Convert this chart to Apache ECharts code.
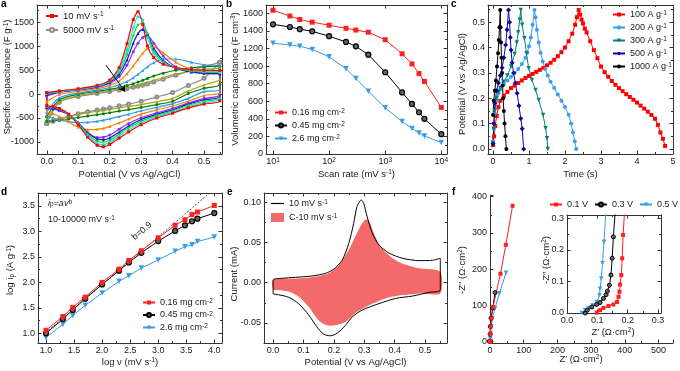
<!DOCTYPE html>
<html><head><meta charset="utf-8">
<script src="https://cdn.jsdelivr.net/npm/echarts@6/dist/echarts.min.js"></script>
<style>html,body{margin:0;padding:0;background:#fff}#c{width:680px;height:371px}</style>
</head><body><div id="c"></div>
<script>
const FONT = '"Liberation Sans", Arial, Helvetica, sans-serif';

// ---------- Panel a : CV curves (potential grids + specific capacitance) ----------
const aPotUp   = [0, 0.04, 0.1, 0.16, 0.2, 0.23, 0.255, 0.275, 0.29, 0.305, 0.32, 0.34, 0.37, 0.41, 0.46, 0.5, 0.55];
const aPotDown = [0.55, 0.5, 0.45, 0.4, 0.35, 0.3, 0.26, 0.23, 0.2, 0.18, 0.16, 0.13, 0.1, 0.07, 0.04, 0.02, 0];
const cv10Up     = [30, 65, 110, 180, 290, 550, 1050, 1550, 1715, 1450, 1000, 760, 620, 550, 510, 495, 490];
const cv10Down   = [-140, -210, -290, -400, -500, -640, -790, -920, -1050, -1100, -1070, -900, -640, -420, -300, -260, -240];
const cv20Up     = [20, 55, 100, 170, 275, 490, 920, 1380, 1610, 1540, 1180, 840, 650, 550, 500, 475, 460];
const cv20Down   = [-110, -180, -265, -375, -475, -605, -750, -880, -1010, -1055, -1030, -870, -625, -420, -305, -265, -250];
const cv30Up     = [10, 50, 95, 160, 260, 450, 820, 1220, 1440, 1470, 1260, 900, 670, 540, 480, 455, 440];
const cv30Down   = [-80, -150, -235, -350, -445, -565, -705, -835, -965, -1005, -980, -835, -615, -420, -315, -275, -260];
const cv50Up     = [-10, 45, 90, 150, 245, 410, 710, 1060, 1260, 1345, 1250, 950, 700, 540, 460, 435, 420];
const cv50Down   = [-50, -120, -210, -330, -420, -530, -665, -795, -915, -950, -935, -810, -600, -425, -330, -290, -275];
const cv100Up    = [-40, 35, 85, 140, 225, 360, 600, 880, 1060, 1180, 1215, 1060, 790, 570, 460, 425, 410];
const cv100Down  = [-20, -90, -190, -300, -390, -495, -615, -735, -855, -900, -905, -800, -610, -440, -350, -315, -295];
const cv200Up    = [-160, -10, 55, 110, 180, 270, 420, 590, 720, 850, 950, 985, 860, 660, 510, 460, 440];
const cv200Down  = [30, -30, -150, -250, -330, -420, -520, -600, -675, -715, -735, -740, -690, -580, -470, -410, -370];
const cv500Up    = [-380, -80, 20, 80, 135, 190, 260, 340, 410, 490, 570, 650, 730, 730, 660, 610, 585];
const cv500Down  = [90, 50, -90, -200, -280, -350, -420, -470, -515, -545, -570, -590, -595, -575, -540, -500, -460];
const cv1000Up   = [-470, -120, -5, 55, 100, 135, 175, 215, 250, 285, 325, 375, 435, 495, 545, 570, 580];
const cv1000Down = [200, 120, 10, -150, -220, -280, -325, -355, -390, -410, -430, -460, -490, -520, -545, -560, -570];
const cv2000Up   = [-545, -160, -35, 30, 75, 105, 135, 165, 190, 215, 245, 285, 345, 415, 480, 515, 540];
const cv2000Down = [310, 190, 65, -90, -160, -220, -260, -290, -320, -340, -360, -390, -425, -465, -510, -540, -560];
const cv5000Up   = [-615, -170, -50, 10, 50, 85, 115, 140, 160, 185, 210, 250, 310, 390, 490, 570, 660];
const cv5000Down = [660, 330, 180, 30, -60, -150, -210, -245, -285, -310, -335, -370, -410, -470, -530, -570, -615];
const arrowFrom = [0.188, 604];
const arrowTo = [0.249, 48];

// ---------- Panel b ----------
const scanRates = [10, 20, 30, 50, 100, 200, 300, 500, 1000, 2000, 3000, 4000, 5000, 10000];
const bVol016 = [1635, 1570, 1530, 1500, 1465, 1430, 1410, 1385, 1300, 1140, 1025, 915, 825, 530];
const bVol045 = [1475, 1445, 1420, 1395, 1340, 1275, 1225, 1130, 930, 700, 570, 475, 400, 225];
const bVol26  = [1260, 1240, 1225, 1190, 1105, 970, 860, 715, 525, 370, 290, 240, 205, 130];

// ---------- Panel c ----------
const cT100 = [0, 0.03, 0.06, 0.1, 0.15, 0.2, 0.3, 0.4, 0.5, 0.6, 0.7, 0.8, 0.9, 1.0, 1.1, 1.2, 1.3, 1.4, 1.5, 1.6, 1.7, 1.8, 1.9, 2.0, 2.1, 2.2, 2.28, 2.33, 2.38, 2.42, 2.46, 2.5, 2.55, 2.6, 2.7, 2.8, 2.9, 3.0, 3.1, 3.2, 3.3, 3.4, 3.5, 3.6, 3.7, 3.8, 3.9, 4.0, 4.1, 4.2, 4.3, 4.4, 4.5, 4.58, 4.65, 4.72, 4.78];
const cV100 = [0.015, 0.05, 0.09, 0.13, 0.165, 0.19, 0.21, 0.225, 0.24, 0.25, 0.26, 0.27, 0.28, 0.288, 0.296, 0.304, 0.312, 0.32, 0.33, 0.34, 0.352, 0.366, 0.382, 0.4, 0.425, 0.455, 0.49, 0.52, 0.548, 0.53, 0.51, 0.495, 0.475, 0.46, 0.425, 0.39, 0.358, 0.325, 0.303, 0.285, 0.268, 0.253, 0.24, 0.228, 0.216, 0.205, 0.194, 0.183, 0.171, 0.159, 0.147, 0.134, 0.119, 0.095, 0.065, 0.04, 0.012];
const cT200 = [0, 0.02, 0.05, 0.1, 0.15, 0.2, 0.3, 0.4, 0.5, 0.6, 0.7, 0.8, 0.9, 0.95, 1.0, 1.05, 1.1, 1.15, 1.18, 1.22, 1.27, 1.32, 1.38, 1.45, 1.52, 1.6, 1.7, 1.8, 1.9, 2.0, 2.1, 2.17, 2.22, 2.27, 2.31];
const cV200 = [0.03, 0.08, 0.14, 0.19, 0.22, 0.235, 0.255, 0.27, 0.285, 0.3, 0.315, 0.335, 0.36, 0.38, 0.405, 0.44, 0.49, 0.548, 0.52, 0.47, 0.42, 0.38, 0.345, 0.315, 0.29, 0.265, 0.24, 0.215, 0.19, 0.165, 0.135, 0.1, 0.065, 0.03, 0.0];
const cT300 = [0, 0.02, 0.05, 0.1, 0.15, 0.2, 0.3, 0.4, 0.5, 0.6, 0.66, 0.7, 0.74, 0.77, 0.81, 0.87, 0.93, 0.99, 1.08, 1.18, 1.27, 1.39, 1.46, 1.5, 1.52];
const cV300 = [0.02, 0.08, 0.15, 0.2, 0.225, 0.24, 0.265, 0.29, 0.325, 0.375, 0.42, 0.46, 0.51, 0.548, 0.49, 0.437, 0.378, 0.318, 0.272, 0.233, 0.193, 0.134, 0.082, 0.042, 0.0];
const cT500 = [0, 0.02, 0.05, 0.1, 0.15, 0.2, 0.25, 0.3, 0.35, 0.39, 0.43, 0.46, 0.48, 0.5, 0.53, 0.57, 0.62, 0.67, 0.72, 0.77, 0.81, 0.85];
const cV500 = [0.02, 0.1, 0.18, 0.23, 0.26, 0.29, 0.32, 0.36, 0.41, 0.47, 0.548, 0.5, 0.44, 0.39, 0.34, 0.3, 0.26, 0.22, 0.17, 0.12, 0.08, 0.0];
const cT1000 = [0, 0.02, 0.05, 0.08, 0.11, 0.14, 0.16, 0.18, 0.2, 0.21, 0.22, 0.235, 0.25, 0.265, 0.28, 0.3, 0.32, 0.345, 0.37];
const cV1000 = [0.134, 0.19, 0.23, 0.27, 0.325, 0.378, 0.43, 0.48, 0.548, 0.48, 0.42, 0.36, 0.3, 0.25, 0.2, 0.15, 0.1, 0.05, 0.0];

// ---------- Panel d ----------
const dLogRate = [1.0, 1.301, 1.477, 1.699, 2.0, 2.301, 2.477, 2.699, 3.0, 3.301, 3.477, 3.602, 3.699, 4.0];
const dLogI016 = [1.06, 1.33, 1.51, 1.71, 2.0, 2.26, 2.43, 2.62, 2.875, 3.12, 3.23, 3.33, 3.38, 3.51];
const dLogI045 = [1.0, 1.28, 1.46, 1.68, 1.96, 2.23, 2.39, 2.58, 2.81, 3.01, 3.12, 3.2, 3.25, 3.36];
const dLogI26  = [0.92, 1.18, 1.35, 1.55, 1.79, 2.02, 2.13, 2.28, 2.44, 2.61, 2.7, 2.74, 2.8, 2.89];
const dFitX = [1.0, 4.0];
const dFitY = [1.02, 3.83];

// ---------- Panel e ----------
const eBlackX = [0, 0, 0.029, 0.073, 0.128, 0.172, 0.199, 0.227, 0.249, 0.265, 0.276, 0.29, 0.298, 0.309, 0.326, 0.348, 0.381, 0.425, 0.48, 0.524, 0.55, 0.55, 0.513, 0.458, 0.403, 0.348, 0.293, 0.26, 0.238, 0.21, 0.188, 0.166, 0.144, 0.117, 0.084, 0.051, 0.018, 0];
const eBlackY = [-0.014, 0.0034, 0.0055, 0.0067, 0.0084, 0.0117, 0.0167, 0.028, 0.049, 0.074, 0.095, 0.103, 0.099, 0.0825, 0.062, 0.047, 0.037, 0.0305, 0.0275, 0.028, 0.0305, -0.009, -0.012, -0.0166, -0.0195, -0.026, -0.034, -0.0425, -0.053, -0.063, -0.066, -0.064, -0.055, -0.04, -0.026, -0.018, -0.015, -0.014];
const eFillX = [0, 0.073, 0.128, 0.183, 0.216, 0.249, 0.276, 0.293, 0.306, 0.317, 0.331, 0.353, 0.386, 0.425, 0.48, 0.55, 0.55, 0.49, 0.425, 0.37, 0.315, 0.27, 0.238, 0.205, 0.177, 0.15, 0.117, 0.084, 0.051, 0.018, 0];
const eFillY = [0.0034, 0.005, 0.0067, 0.0117, 0.022, 0.041, 0.062, 0.074, 0.079, 0.076, 0.062, 0.045, 0.0325, 0.024, 0.018, 0.0138, -0.0133, -0.0133, -0.0154, -0.0195, -0.028, -0.038, -0.049, -0.053, -0.053, -0.047, -0.03, -0.0175, -0.011, -0.009, -0.0083];

// ---------- Panel f ----------
const fRedX = [0.098, 0.109, 0.12, 0.137, 0.153, 0.165, 0.17, 0.173, 0.175, 0.179, 0.182, 0.185, 0.195, 1, 2, 4, 9, 31, 47, 67];
const fRedY = [0.001, 0.009, 0.016, 0.022, 0.027, 0.035, 0.051, 0.067, 0.09, 0.12, 0.173, 0.247, 0.4, 20, 41, 64, 95, 187, 267, 375];
const fBlackX = [0.06, 0.067, 0.082, 0.098, 0.109, 0.12, 0.129, 0.133, 0.14, 0.145, 0.149, 0.153, 0.165, 0.5, 1, 3, 8, 15];
const fBlackY = [0, 0.009, 0.019, 0.027, 0.033, 0.046, 0.058, 0.069, 0.088, 0.12, 0.173, 0.241, 0.4, 20, 41, 64, 92, 135];
const fBlueX = [0.049, 0.06, 0.071, 0.085, 0.098, 0.107, 0.109, 0.113, 0.117, 0.122, 0.133, 0.3, 1, 2, 4, 7, 15, 28, 47.5];
const fBlueY = [0, 0.009, 0.016, 0.024, 0.035, 0.056, 0.077, 0.109, 0.157, 0.225, 0.4, 2, 9, 23, 41, 64, 92, 133, 190];

// ---------- tick labels of the y axes that are written next to their axis ----------
const bTickY = [0, 200, 400, 600, 800, 1000, 1200, 1400, 1600];
const eTickY = [-0.05, 0, 0.05, 0.1];
const fTickY = [0, 100, 200, 300, 400];
const insetTickY = [0, 0.1, 0.2, 0.3];

// ---------- labels ----------
const LABELS = {
  a10: '10 mV s{sup|-1}', a5000: '5000 mV s{sup|-1}',
  b1: '0.16 mg cm{sup|-2}', b2: '0.45 mg cm{sup|-2}', b3: '2.6 mg cm{sup|-2}',
  c1: '100 A g{sup|-1}', c2: '200 A g{sup|-1}', c3: '300 A g{sup|-1}', c4: '500 A g{sup|-1}', c5: '1000 A g{sup|-1}',
  d1: '0.16 mg cm{sup|-2}', d2: '0.45 mg cm{sup|-2}', d3: '2.6 mg cm{sup|-2}',
  e1: '10 mV s{sup|-1}', e2: 'C-10 mV s{sup|-1}',
  f1: '0.1 V', f2: '0.3 V', f3: '0.5 V'
};

const RICH = {
  sup: {fontSize: 6.5, verticalAlign: 'top', fontFamily: FONT, color: '#1a1a1a'},
  sub: {fontSize: 6.5, verticalAlign: 'bottom', fontFamily: FONT, color: '#1a1a1a'},
  it: {fontStyle: 'italic', fontFamily: FONT, color: '#1a1a1a', fontSize: 9}
};

const grids = [], xAxes = [], yAxes = [];
function axisCfg(gi, pos, o, main) {
  const a = {
    gridIndex: gi, position: pos, type: o.type || 'value',
    min: o.min, max: o.max,
    axisLine: {show: true, onZero: false, lineStyle: {color: '#333', width: 1}},
    axisTick: {show: true, inside: true, length: 3.5, lineStyle: {color: '#333', width: 1}},
    minorTick: {show: o.minor !== false, splitNumber: 2, length: 2, lineStyle: {color: '#333', width: 1}},
    splitLine: {show: false}, minorSplitLine: {show: false},
    axisLabel: {show: main && !o.ownLabels, color: '#1a1a1a', fontSize: 9, fontFamily: FONT, margin: 3,
      showMinLabel: !!o.showMin, showMaxLabel: !!o.showMax, formatter: o.fmt, rich: RICH},
    silent: true
  };
  if (o.interval != null) a.interval = o.interval;
  if (o.splitNumber != null) a.splitNumber = o.splitNumber;
  if (o.type === 'log') a.logBase = 10;
  return a;
}
function addPanel(g, xo, yo, box) {
  const gi = grids.length;
  grids.push(Object.assign({containLabel: false, outerBoundsMode: 'none', show: false}, g));
  const xi = xAxes.length, yi = yAxes.length;
  xAxes.push(axisCfg(gi, 'bottom', xo, true));
  yAxes.push(axisCfg(gi, 'left', yo, true));
  if (box) {
    xAxes.push(axisCfg(gi, 'top', xo, false));
    yAxes.push(axisCfg(gi, 'right', yo, false));
  }
  return {xAxisIndex: xi, yAxisIndex: yi, xMin: xo.min, left: g.left};
}
const step = (s, d) => v => (Math.abs(v / s - Math.round(v / s)) < 1e-6 ? (Math.round(v / s) * s).toFixed(d) : '');

const PA = addPanel({left: 37, top: 5, width: 185, height: 149},
  {min: -0.031, max: 0.557, splitNumber: 5, fmt: step(0.1, 1)},
  {min: -1250, max: 1855, splitNumber: 6, fmt: step(500, 0)}, true);
const PB = addPanel({left: 266, top: 5, width: 181, height: 149},
  {type: 'log', min: 7.5, max: 12630, minor: false, fmt: v => '10{sup|' + Math.round(Math.log10(v)) + '}'},
  {min: 0, max: 1695, interval: 200, ownLabels: true}, true);
const PC = addPanel({left: 488, top: 5, width: 185, height: 149},
  {min: -0.14, max: 5.0, splitNumber: 5, showMax: true, fmt: step(1, 0)},
  {min: -0.02, max: 0.568, splitNumber: 5, fmt: step(0.1, 1)}, true);
const PD = addPanel({left: 38, top: 193, width: 184, height: 150},
  {min: 0.857, max: 4.137, splitNumber: 7, fmt: step(0.5, 1)},
  {min: 0.81, max: 3.754, splitNumber: 6, fmt: step(0.5, 1)}, true);
const PE = addPanel({left: 264, top: 193, width: 183, height: 150},
  {min: -0.03, max: 0.572, splitNumber: 5, fmt: step(0.1, 1)},
  {min: -0.075, max: 0.1117, splitNumber: 4, ownLabels: true}, true);
const PF = addPanel({left: 490, top: 195, width: 183, height: 148},
  {min: 0, max: 543, interval: 100, showMin: true, fmt: step(100, 0)},
  {min: -4.4, max: 404.7, splitNumber: 4, ownLabels: true}, false);
const PI = addPanel({left: 567, top: 215, width: 94, height: 98},
  {min: 0, max: 0.31, interval: 0.1, showMin: true, fmt: step(0.1, 1)},
  {min: 0, max: 0.31, interval: 0.1, ownLabels: true}, true);

const pairs = (xs, ys) => xs.map((x, i) => [x, ys[i]]);
const loop = (up, down) => {
  const d = pairs(aPotUp, up).concat(pairs(aPotDown, down));
  d.push(d[0]);
  return d;
};
const series = [];
function line(p, name, data, color, symbol, size, extra) {
  series.push(Object.assign({
    type: 'line', name: name, xAxisIndex: p.xAxisIndex, yAxisIndex: p.yAxisIndex, data: data,
    symbol: symbol, symbolSize: size, showSymbol: symbol !== 'none',
    lineStyle: {color: color, width: 1}, itemStyle: {color: color},
    clip: true, animation: false, silent: true
  }, extra || {}));
}

// panel a
const aStyles = [
  ['a5000', cv5000Up, cv5000Down, '#8c8c8c', 'emptyCircle'],
  ['a2000', cv2000Up, cv2000Down, '#a6a612', 'triangle'],
  ['a1000', cv1000Up, cv1000Down, '#0b7d0b', 'circle'],
  ['a500', cv500Up, cv500Down, '#2b9bf0', 'triangle'],
  ['a200', cv200Up, cv200Down, '#ff8000', 'triangle'],
  ['a100', cv100Up, cv100Down, '#8f2cf5', 'circle'],
  ['a50', cv50Up, cv50Down, '#1010ee', 'triangle'],
  ['a30', cv30Up, cv30Down, '#10e010', 'diamond'],
  ['a20', cv20Up, cv20Down, '#10e0e8', 'circle'],
  ['a10', cv10Up, cv10Down, '#ff0000', 'rect']
];
aStyles.forEach(s => line(PA, s[0], loop(s[1], s[2]), s[3], s[4], 3, {smooth: 0.25, lineStyle: {color: s[3], width: 1.2}}));
series[0].markLine = {silent: true, symbol: ['none', 'arrow'], symbolSize: 6, animation: false,
  lineStyle: {color: '#000', type: 'solid', width: 1}, label: {show: false},
  data: [[{coord: arrowFrom}, {coord: arrowTo}]]};

// panel b
line(PB, 'b1', pairs(scanRates, bVol016), '#ff2020', 'rect', 5);
line(PB, 'b2', pairs(scanRates, bVol045), '#000000', 'circle', 5, {itemStyle: {color: '#666', borderColor: '#000', borderWidth: 1.2}});
line(PB, 'b3', pairs(scanRates, bVol26), '#3a9be6', 'triangle', 5.5, {symbolRotate: 180});

// panel c
line(PC, 'c1', pairs(cT100, cV100), '#ff0000', 'rect', 4);
line(PC, 'c2', pairs(cT200, cV200), '#3b9cf0', 'circle', 4);
line(PC, 'c3', pairs(cT300, cV300), '#0a7f7a', 'triangle', 4.5, {symbolRotate: 180});
line(PC, 'c4', pairs(cT500, cV500), '#0a0a9a', 'diamond', 5);
line(PC, 'c5', pairs(cT1000, cV1000), '#000000', 'circle', 4);

// panel d
line(PD, 'dfit', pairs(dFitX, dFitY), '#333', 'none', 0, {lineStyle: {color: '#333', width: 1, type: [1.5, 2]}});
line(PD, 'd3', pairs(dLogRate, dLogI26), '#3a9be6', 'triangle', 5.5, {symbolRotate: 180});
line(PD, 'd2', pairs(dLogRate, dLogI045), '#000000', 'circle', 5, {itemStyle: {color: '#666', borderColor: '#000', borderWidth: 1.2}});
line(PD, 'd1', pairs(dLogRate, dLogI016), '#ff2020', 'rect', 5);

// panel e
series.push({
  type: 'custom', name: 'e2', xAxisIndex: PE.xAxisIndex, yAxisIndex: PE.yAxisIndex,
  data: [[0, 0]], itemStyle: {color: '#f46a6a'}, clip: true, animation: false, silent: true,
  renderItem: (params, api) => ({
    type: 'polygon',
    shape: {points: eFillX.map((x, i) => api.coord([x, eFillY[i]])), smooth: 0.25},
    style: {fill: '#f46a6a'}
  })
});
line(PE, 'e1', pairs(eBlackX, eBlackY), '#000000', 'none', 0, {smooth: 0.25});

// panel f (main + inset)
[[PF, ''], [PI, 'i']].forEach(([p, suf]) => {
  line(p, 'f3' + suf, pairs(fBlueX, fBlueY), '#3a9be6', 'triangle', 4.5, {symbolRotate: 180});
  line(p, 'f2' + suf, pairs(fBlackX, fBlackY), '#000000', 'circle', 4, {itemStyle: {color: '#666', borderColor: '#000', borderWidth: 1}});
  line(p, 'f1' + suf, pairs(fRedX, fRedY), '#ff2020', 'rect', 4);
});

const legendBase = {
  selectedMode: false, orient: 'vertical', itemWidth: 12, itemHeight: 5, padding: 0,
  textStyle: {fontSize: 9, color: '#1a1a1a', fontFamily: FONT, rich: RICH},
  formatter: n => LABELS[n] || n
};
const legends = [
  Object.assign({}, legendBase, {data: ['a10', 'a5000'], left: 45, top: 11, itemGap: 4, textStyle: Object.assign({}, legendBase.textStyle, {fontSize: 9.5})}),
  Object.assign({}, legendBase, {data: ['b1', 'b2', 'b3'], left: 274, top: 108, itemGap: 4}),
  Object.assign({}, legendBase, {data: ['c1', 'c2', 'c3', 'c4', 'c5'], left: 612, top: 10, itemGap: 4}),
  Object.assign({}, legendBase, {data: ['d1', 'd2', 'd3'], left: 142, top: 298, itemGap: 3.5}),
  Object.assign({}, legendBase, {data: [{name: 'e1', icon: 'rect'}], left: 271, top: 199, itemWidth: 13, itemHeight: 1.2}),
  Object.assign({}, legendBase, {data: [{name: 'e2', icon: 'rect'}], left: 271, top: 213, itemWidth: 13, itemHeight: 9}),
  Object.assign({}, legendBase, {data: ['f1', 'f2', 'f3'], left: 549, top: 200, orient: 'horizontal', itemGap: 6})
];

const letter = (t, x, y) => ({type: 'text', x: x, y: y, silent: true,
  style: {text: t, font: 'bold 10px ' + FONT, fill: '#000', align: 'left', verticalAlign: 'top'}});
const axName = (t, x, y, rot) => ({type: 'text', x: x, y: y, rotation: rot ? Math.PI / 2 : 0, silent: true,
  style: {text: t, font: '9.5px ' + FONT, fill: '#1a1a1a', align: 'center', verticalAlign: 'middle', rich: RICH}});
const graphic = [
  letter('a', 1, -1), letter('b', 226, -1), letter('c', 451, -1),
  letter('d', 1, 187), letter('e', 227, 187), letter('f', 452, 187),
  axName('Specific capacitance (F g{sup|-1})', 7.5, 77, true),
  axName('Volumetric capacitance (F cm{sup|-3})', 235, 79, true),
  axName('Potential (V vs Ag/AgCl)', 462, 84, true),
  axName('log i{sub|p} (A g{sup|-1})', 10.5, 270, true),
  axName('Current (mA)', 234, 274, true),
  axName('-Z″ (Ω·cm{sup|2})', 462, 270, true),
  axName('-Z″ (Ω·cm{sup|2})', 546, 260, true),
  axName('Potential (V vs Ag/AgCl)', 129.5, 174, false),
  axName('Scan rate (mV s{sup|-1})', 356.5, 174, false),
  axName('Time (s)', 580.5, 174, false),
  axName('log ν (mV s{sup|-1})', 130, 362, false),
  axName('Potential (V vs Ag/AgCl)', 355.5, 362, false),
  axName('Z′ (Ω·cm{sup|2})', 581, 359, false),
  axName('Z′ (Ω·cm{sup|2})', 613, 332, false),
  {type: 'text', x: 48, y: 199, silent: true, style: {text: '{it|i}{sub|p}{it|=av}{sup|b}', fill: '#1a1a1a', font: '9px ' + FONT, rich: RICH}},
  {type: 'text', x: 48, y: 215, silent: true, style: {text: '10-10000 mV s{sup|-1}', fill: '#1a1a1a', font: '9px ' + FONT, rich: RICH}},
  {type: 'text', x: 142, y: 231, rotation: 40 * Math.PI / 180, silent: true, style: {text: 'b=0.9', fill: '#1a1a1a', font: '9px ' + FONT, align: 'center', verticalAlign: 'middle'}}
];

const chart = echarts.init(document.getElementById('c'), null, {renderer: 'canvas'});
chart.setOption({
  animation: false, backgroundColor: '#fff',
  grid: grids, xAxis: xAxes, yAxis: yAxes, series: series, legend: legends, graphic: graphic
});

// y tick labels for panels b, e, f and the inset: placed through the axes' own pixel conversion
const tickText = [];
[[PB, bTickY, 0], [PE, eTickY, 2], [PF, fTickY, 0], [PI, insetTickY, 1]].forEach(([p, ticks, digits]) => {
  let ax = chart.convertToPixel({xAxisIndex: p.xAxisIndex}, p.xMin);
  if (!isFinite(ax)) ax = p.left;
  ticks.forEach(v => {
    const py = chart.convertToPixel({yAxisIndex: p.yAxisIndex}, v);
    if (!isFinite(py)) return;
    tickText.push({type: 'text', x: ax - 3, y: py, silent: true,
      style: {text: v.toFixed(digits), font: '9px ' + FONT, fill: '#1a1a1a', align: 'right', verticalAlign: 'middle'}});
  });
});
chart.setOption({graphic: graphic.concat(tickText)});
</script></body></html>
